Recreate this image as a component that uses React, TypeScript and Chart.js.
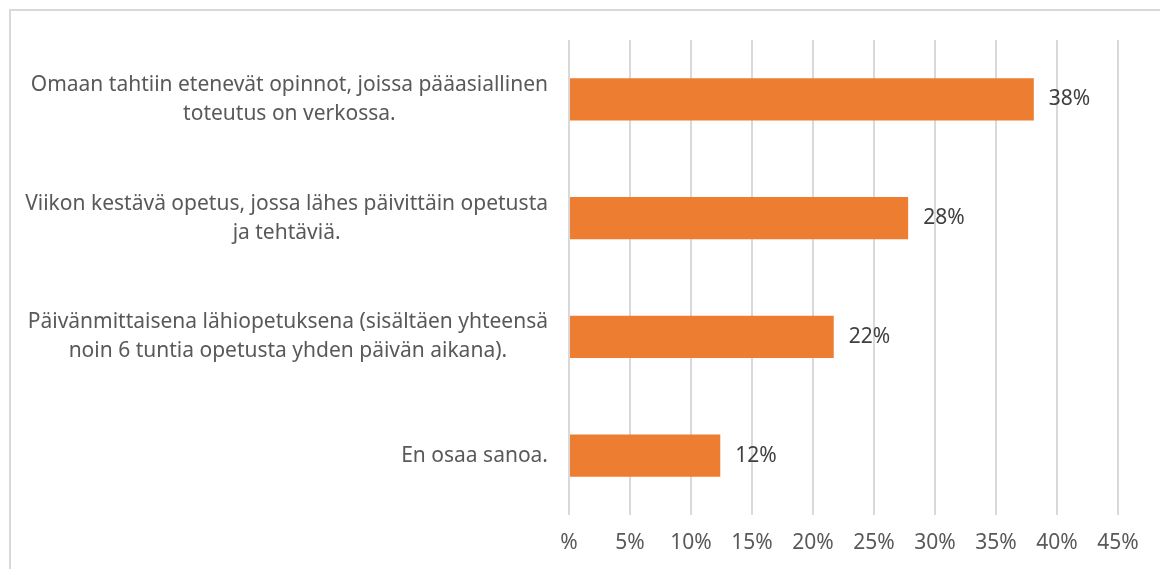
import React, { useEffect, useRef } from "react";
import { Chart, registerables } from "chart.js";

Chart.register(...registerables);

const categories: string[][] = [
  ["Omaan tahtiin etenevät opinnot, joissa pääasiallinen", "toteutus on verkossa."],
  ["Viikon kestävä opetus, jossa lähes päivittäin opetusta", "ja tehtäviä."],
  ["Päivänmittaisena lähiopetuksena (sisältäen yhteensä", "noin 6 tuntia opetusta yhden päivän aikana)."],
  ["En osaa sanoa."],
];
const values: number[] = [38.1, 27.8, 21.7, 12.4];
const dataLabels: string[] = ["38%", "28%", "22%", "12%"];
const axisMin = 0;
const axisMax = 45;
const axisStep = 5;

const FONT = "'Noto Sans', 'Open Sans', sans-serif";
const BAR_COLOR = "#ED7D31";
const GRID_COLOR = "#d9d9d9";
const TEXT_COLOR = "#595959";
const LABEL_COLOR = "#404040";

const framePlugin = {
  id: "frame",
  beforeDraw(chart: any) {
    const ctx = chart.ctx;
    ctx.save();
    ctx.strokeStyle = GRID_COLOR;
    ctx.lineWidth = 2;
    ctx.beginPath();
    ctx.moveTo(10, chart.height);
    ctx.lineTo(10, 10);
    ctx.lineTo(chart.width, 10);
    ctx.stroke();
    ctx.restore();
  },
};

const categoryLabelPlugin = {
  id: "catLabels",
  afterDraw(chart: any) {
    const ctx = chart.ctx;
    const yScale = chart.scales.y;
    const rightEdge = chart.chartArea.left - 21;
    const lineH = 29;
    ctx.save();
    ctx.font = `21px ${FONT}`;
    ctx.fillStyle = TEXT_COLOR;
    ctx.textAlign = "center";
    ctx.textBaseline = "middle";
    categories.forEach((lines, i) => {
      const y = yScale.getPixelForValue(i);
      const maxW = Math.max(...lines.map((l) => ctx.measureText(l).width));
      const cx = rightEdge - maxW / 2;
      lines.forEach((l, j) => {
        ctx.fillText(l, cx, y + (j - (lines.length - 1) / 2) * lineH);
      });
    });
    ctx.restore();
  },
};

const dataLabelPlugin = {
  id: "dataLabels",
  afterDatasetsDraw(chart: any) {
    const ctx = chart.ctx;
    const meta = chart.getDatasetMeta(0);
    ctx.save();
    ctx.font = `21px ${FONT}`;
    ctx.fillStyle = LABEL_COLOR;
    ctx.textAlign = "left";
    ctx.textBaseline = "middle";
    meta.data.forEach((bar: any, i: number) => {
      ctx.fillText(dataLabels[i], bar.x + 15, bar.y);
    });
    ctx.restore();
  },
};

export default function App() {
  const canvasRef = useRef<HTMLCanvasElement | null>(null);

  useEffect(() => {
    if (!canvasRef.current) return;
    const chart = new Chart(canvasRef.current, {
      type: "bar",
      data: {
        labels: categories.map((c) => c.join(" ")),
        datasets: [
          {
            data: values,
            backgroundColor: BAR_COLOR,
            categoryPercentage: 1,
            barPercentage: 0.355,
          },
        ],
      },
      options: {
        indexAxis: "y",
        animation: false,
        responsive: true,
        maintainAspectRatio: false,
        layout: { padding: { left: 569, right: 42, top: 40, bottom: 0 } },
        plugins: {
          legend: { display: false },
          tooltip: { enabled: false },
        },
        scales: {
          x: {
            min: axisMin,
            max: axisMax,
            ticks: {
              stepSize: axisStep,
              color: TEXT_COLOR,
              font: { family: FONT, size: 21 },
              padding: 15,
              callback: (v: any) => (Number(v) === 0 ? "%" : `${v}%`),
            },
            grid: { color: GRID_COLOR, lineWidth: 2, drawTicks: false },
            border: { display: false },
            afterFit: (scale: any) => {
              scale.height = 54;
            },
          },
          y: {
            display: false,
          },
        },
      },
      plugins: [framePlugin, categoryLabelPlugin, dataLabelPlugin],
    });
    return () => chart.destroy();
  }, []);

  return (
    <div
      style={{
        position: "fixed",
        left: 0,
        top: 0,
        width: 1160,
        height: 569,
        background: "#ffffff",
      }}
    >
      <canvas ref={canvasRef} />
    </div>
  );
}
